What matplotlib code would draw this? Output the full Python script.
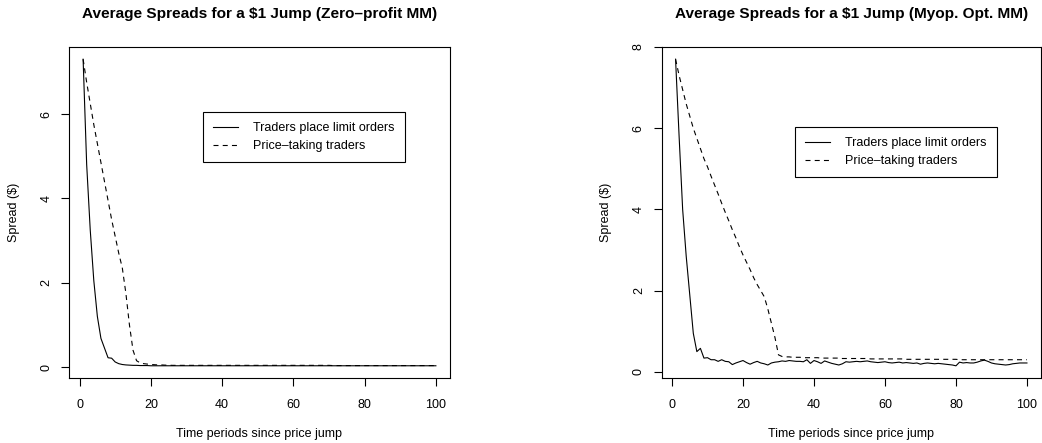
import matplotlib
matplotlib.use("Agg")
import matplotlib.pyplot as plt

plt.rcParams['font.family'] = ['Liberation Sans', 'DejaVu Sans']

periods = list(range(1, 101))

# Zero-profit market maker
limit_zp = [7.3, 4.8, 3.25, 2.05, 1.2, 0.68, 0.45, 0.22, 0.21, 0.12,
            0.08, 0.06, 0.05, 0.045, 0.04, 0.04, 0.035, 0.035, 0.035, 0.03,
            0.03, 0.03, 0.03, 0.03, 0.03, 0.03, 0.03, 0.03, 0.03, 0.03,
            0.03, 0.03, 0.03, 0.03, 0.03, 0.03, 0.03, 0.03, 0.03, 0.03,
            0.03, 0.03, 0.03, 0.03, 0.03, 0.03, 0.03, 0.03, 0.03, 0.03,
            0.03, 0.03, 0.03, 0.03, 0.03, 0.03, 0.03, 0.03, 0.03, 0.03,
            0.03, 0.03, 0.03, 0.03, 0.03, 0.03, 0.03, 0.03, 0.03, 0.03,
            0.03, 0.03, 0.03, 0.03, 0.03, 0.03, 0.03, 0.03, 0.03, 0.03,
            0.03, 0.03, 0.03, 0.03, 0.03, 0.03, 0.03, 0.03, 0.03, 0.03,
            0.03, 0.03, 0.03, 0.03, 0.03, 0.03, 0.03, 0.03, 0.03, 0.03]
taking_zp = [7.3, 6.75, 6.25, 5.75, 5.3, 4.85, 4.4, 3.95, 3.5, 3.1,
             2.7, 2.35, 1.75, 1.0, 0.4, 0.15, 0.1, 0.08, 0.07, 0.06,
             0.055, 0.05, 0.05, 0.045, 0.045, 0.04, 0.04, 0.04, 0.04, 0.04,
             0.04, 0.04, 0.04, 0.04, 0.04, 0.04, 0.04, 0.04, 0.04, 0.04,
             0.04, 0.04, 0.04, 0.04, 0.04, 0.04, 0.04, 0.04, 0.04, 0.04,
             0.04, 0.04, 0.04, 0.04, 0.04, 0.04, 0.04, 0.04, 0.04, 0.04,
             0.04, 0.04, 0.04, 0.04, 0.04, 0.04, 0.04, 0.04, 0.04, 0.04,
             0.035, 0.035, 0.035, 0.035, 0.035, 0.035, 0.035, 0.035, 0.035, 0.035,
             0.035, 0.035, 0.035, 0.035, 0.035, 0.035, 0.035, 0.035, 0.035, 0.035,
             0.035, 0.035, 0.035, 0.035, 0.035, 0.035, 0.035, 0.035, 0.035, 0.035]

# Myopically optimal market maker
limit_mo = [7.7, 5.8, 4.0, 2.85, 1.9, 0.95, 0.5, 0.58, 0.34, 0.35,
            0.30, 0.30, 0.26, 0.30, 0.26, 0.25, 0.18, 0.22, 0.25, 0.28,
            0.23, 0.19, 0.23, 0.26, 0.22, 0.20, 0.17, 0.22, 0.24, 0.25,
            0.27, 0.26, 0.28, 0.27, 0.26, 0.26, 0.25, 0.30, 0.21, 0.28,
            0.25, 0.21, 0.27, 0.24, 0.21, 0.19, 0.17, 0.20, 0.25, 0.24,
            0.25, 0.26, 0.25, 0.26, 0.27, 0.25, 0.24, 0.23, 0.24, 0.25,
            0.23, 0.22, 0.23, 0.24, 0.22, 0.23, 0.22, 0.21, 0.22, 0.19,
            0.21, 0.22, 0.21, 0.20, 0.21, 0.20, 0.19, 0.18, 0.17, 0.15,
            0.24, 0.22, 0.23, 0.22, 0.22, 0.24, 0.27, 0.29, 0.26, 0.22,
            0.20, 0.19, 0.18, 0.17, 0.18, 0.20, 0.21, 0.22, 0.22, 0.22]
taking_mo = [7.7, 7.3, 6.95, 6.6, 6.3, 6.0, 5.75, 5.5, 5.25, 5.05,
             4.82, 4.6, 4.38, 4.15, 3.93, 3.72, 3.5, 3.3, 3.08, 2.88,
             2.7, 2.52, 2.32, 2.15, 2.0, 1.85, 1.55, 1.2, 0.85, 0.42,
             0.38, 0.37, 0.37, 0.36, 0.36, 0.36, 0.35, 0.35, 0.35, 0.35,
             0.35, 0.34, 0.34, 0.34, 0.34, 0.34, 0.34, 0.33, 0.33, 0.33,
             0.33, 0.33, 0.33, 0.33, 0.33, 0.32, 0.32, 0.32, 0.32, 0.32,
             0.32, 0.32, 0.32, 0.32, 0.32, 0.31, 0.31, 0.31, 0.31, 0.31,
             0.31, 0.31, 0.31, 0.31, 0.31, 0.31, 0.31, 0.31, 0.31, 0.31,
             0.30, 0.30, 0.30, 0.30, 0.30, 0.30, 0.30, 0.30, 0.30, 0.30,
             0.30, 0.30, 0.30, 0.30, 0.30, 0.30, 0.30, 0.30, 0.30, 0.30]

titles = ["Average Spreads for a $1 Jump (Zero\u2013profit MM)",
          "Average Spreads for a $1 Jump (Myop. Opt. MM)"]
legend_labels = ["Traders place limit orders", "Price\u2013taking traders"]
xlabel = "Time periods since price jump"
ylabel = "Spread ($)"
xticks = [0, 20, 40, 60, 80, 100]
yticks_zp = [0, 2, 4, 6]
yticks_mo = [0, 2, 4, 6, 8]

W, H = 1042, 443
fig = plt.figure(figsize=(W / 100, H / 100), dpi=100)

def px_axes(x0, y0, x1, y1):
    return fig.add_axes([x0 / W, 1 - y1 / H, (x1 - x0) / W, (y1 - y0) / H])

ax1 = px_axes(69, 47, 450, 378)
ax2 = px_axes(661.5, 47, 1041, 378)

panels = [
    (ax1, limit_zp, taking_zp, titles[0], yticks_zp, (-0.26, 7.59), (0.352, 0.804)),
    (ax2, limit_mo, taking_mo, titles[1], yticks_mo, (-0.15, 8.0), (0.353, 0.758)),
]

for ax, lo, pt, title, yt, ylim, legpos in panels:
    ax.plot(periods, lo, color='black', lw=0.8, label=legend_labels[0])
    ax.plot(periods, pt, color='black', lw=0.8, dashes=(4.5, 3.8),
            label=legend_labels[1])
    ax.set_xlim(-2.96, 103.96)
    ax.set_ylim(*ylim)
    ax.set_xticks(xticks)
    ax.set_yticks(yt)
    ax.tick_params(direction='out', length=6, width=0.8, labelsize=9,
                   colors='black')
    ax.tick_params(axis='x', pad=9)
    ax.tick_params(axis='y', pad=6)
    plt.setp(ax.get_yticklabels(), rotation=90, va='center')
    for s in ax.spines.values():
        s.set_linewidth(0.8)
        s.set_color('black')
    ax.set_title(title, fontsize=11.1, fontweight='bold', pad=21)
    ax.set_xlabel(xlabel, fontsize=9, labelpad=12)
    ax.set_ylabel(ylabel, fontsize=9, labelpad=15)
    leg = ax.legend(loc='upper left', bbox_to_anchor=legpos, fontsize=9,
                    frameon=True, fancybox=False, edgecolor='black',
                    framealpha=1, borderaxespad=0, handlelength=2.0,
                    handletextpad=1.2, labelspacing=0.5, borderpad=0.8)
    leg.get_frame().set_linewidth(0.8)

fig.savefig("out.png", dpi=100, facecolor='white')
